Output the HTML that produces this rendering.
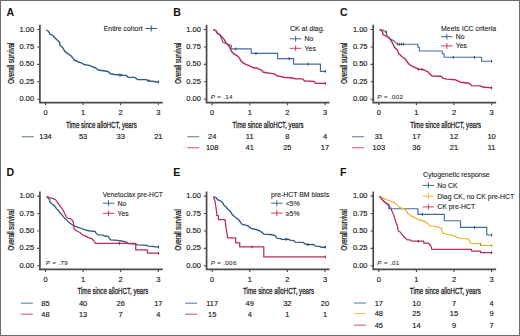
<!DOCTYPE html>
<html><head><meta charset="utf-8"><style>
html,body{margin:0;padding:0;background:#fff;}
body{width:520px;height:336px;overflow:hidden;position:relative;}
svg{position:absolute;left:0;top:0;}
text{font-family:"Liberation Sans",sans-serif;fill:#222222;}
.lt{font-weight:bold;font-size:10.6px;fill:#111;}
.tl{font-size:7.5px;stroke:#222;stroke-width:0.16px;}
.at{font-size:8.8px;stroke:#222;stroke-width:0.28px;}
.lg{font-size:6.9px;stroke:#222;stroke-width:0.1px;}
.pv{font-size:6.2px;fill:#333;stroke:#333;stroke-width:0.1px;letter-spacing:0.35px;}
.ax{fill:none;stroke:#4a4a4a;stroke-width:1.7;}
.tk{fill:none;stroke:#4a4a4a;stroke-width:1.1;}
</style></head><body>
<svg width="520" height="336" viewBox="0 0 520 336">
<rect x="0" y="0" width="520" height="336" fill="#fff"/>
<rect x="0.5" y="0.5" width="519" height="335" fill="none" stroke="#6b6b6b" stroke-width="1"/>
<text x="6.6" y="15.7" class="lt">A</text>
<path d="M39.9 24.8V102.7H162.8" class="ax"/>
<path d="M37.2 29.5H40M37.2 46.93H40M37.2 64.36H40M37.2 81.79H40M37.2 99.22H40M45.5 102.5V105.3M83.1 102.5V105.3M120.7 102.5V105.3M158.3 102.5V105.3" class="tk"/>
<text x="34.2" y="31.6" class="tl" text-anchor="end">1.00</text>
<text x="34.2" y="49.03" class="tl" text-anchor="end">0.75</text>
<text x="34.2" y="66.46" class="tl" text-anchor="end">0.50</text>
<text x="34.2" y="83.89" class="tl" text-anchor="end">0.25</text>
<text x="34.2" y="101.32" class="tl" text-anchor="end">0.00</text>
<text x="45.5" y="114.6" class="tl" text-anchor="middle">0</text>
<text x="83.1" y="114.6" class="tl" text-anchor="middle">1</text>
<text x="120.7" y="114.6" class="tl" text-anchor="middle">2</text>
<text x="158.3" y="114.6" class="tl" text-anchor="middle">3</text>
<text transform="translate(101.4 127.5) scale(0.697 1)" class="at" text-anchor="middle">Time since alloHCT, years</text>
<text transform="translate(13.9 63.25) rotate(-90) scale(0.685 1)" class="at" text-anchor="middle">Overall survival</text>
<path d="M46.2 30L48.8 31.5L50 34.4L52.6 35.2L55.2 38.2L58.1 40.8L59.6 42.6L60 45.2L62.6 47.5L65 51.7L67.2 53.2L70.9 55.8L73.2 58.4L74.3 60.3L76.9 61L79.1 62.3L81.4 62.9L84.3 64.7L88.1 65.1L91.1 66.1L93.4 67.2L95.3 67.6L97.6 69.5L99.5 70.3L103.4 70.7L108 71.5L110.3 73.8L114.2 74.5L118.8 74.9L122.6 75.3L126.3 75.5L128.2 77.2L134.8 77.4L137.5 79.5L146.3 79.6L147.8 80.6L149.4 81L153.2 81.2L155.5 82L158.6 82" stroke="#2c5a86" stroke-width="1.4" fill="none" stroke-linejoin="round"/>
<path d="M158.5 80.6V83.4M119 73.5V76.3M121 73.7V76.5M149 79.5V82.3" stroke="#223344" stroke-width="0.9"/>
<text x="103.8" y="31" class="lg" textLength="38.8" lengthAdjust="spacingAndGlyphs">Entire cohort</text>
<path d="M145.2 28.5H157.2M151.2 25.6V31.4" stroke="#36628f" stroke-width="1.1"/>
<path d="M21.8 136.7H33.8" stroke="#36628f" stroke-width="1.2" opacity="0.72"/>
<text x="45.5" y="139.2" class="tl" text-anchor="middle">134</text>
<text x="83.1" y="139.2" class="tl" text-anchor="middle">53</text>
<text x="120.7" y="139.2" class="tl" text-anchor="middle">33</text>
<text x="158.3" y="139.2" class="tl" text-anchor="middle">21</text>
<text x="173.27" y="15.7" class="lt">B</text>
<path d="M206.57 24.8V102.7H329.47" class="ax"/>
<path d="M203.87 29.5H206.67M203.87 46.93H206.67M203.87 64.36H206.67M203.87 81.79H206.67M203.87 99.22H206.67M212.17 102.5V105.3M249.77 102.5V105.3M287.37 102.5V105.3M324.97 102.5V105.3" class="tk"/>
<text x="200.87" y="31.6" class="tl" text-anchor="end">1.00</text>
<text x="200.87" y="49.03" class="tl" text-anchor="end">0.75</text>
<text x="200.87" y="66.46" class="tl" text-anchor="end">0.50</text>
<text x="200.87" y="83.89" class="tl" text-anchor="end">0.25</text>
<text x="200.87" y="101.32" class="tl" text-anchor="end">0.00</text>
<text x="212.17" y="114.6" class="tl" text-anchor="middle">0</text>
<text x="249.77" y="114.6" class="tl" text-anchor="middle">1</text>
<text x="287.37" y="114.6" class="tl" text-anchor="middle">2</text>
<text x="324.97" y="114.6" class="tl" text-anchor="middle">3</text>
<text transform="translate(268.07 127.5) scale(0.697 1)" class="at" text-anchor="middle">Time since alloHCT, years</text>
<text transform="translate(180.57 63.25) rotate(-90) scale(0.685 1)" class="at" text-anchor="middle">Overall survival</text>
<path d="M213.3 29.6L216 30.8L217.4 33.2L220 35L220.8 37.2L223 42.5L230.5 45.2H231.3V48.8H251.2V53.4H277.7V58.65H293.6V64.1H320.4V71.3H325.6" stroke="#3f6e9e" stroke-width="1.15" fill="none" stroke-linejoin="round"/>
<path d="M235.7 47.4V50.2M256 52V54.8M289.2 57.25V60.05M307.9 62.7V65.5M325.3 69.9V72.7" stroke="#2a3a4a" stroke-width="0.9"/>
<path d="M213.3 29.6L215.9 30.6L217.2 33.2L219.8 34.8L222.4 37.5L224.1 39.4L225.7 42.4L227.7 44.3L229.6 47L230.6 49.8L231.8 51.7L233.7 53.7L236.8 55.6L239.2 57.5L240.7 60.6L242.6 62.6L245.3 64.1L248.4 65.3L251.5 66.8L254 67.8L257.1 68.2L259.4 69.3L261.7 70.1L262.8 72L266.3 72.8L270.9 73.4L274.8 73.9L276.7 75.8L280.9 76.6L283.2 77.2L290.9 77.8L295.4 78.75L302.5 78.9L304.7 81L314.1 81.4L315.4 83.4L325.6 83.4" stroke="#c02552" stroke-width="1.4" fill="none" stroke-linejoin="round"/>
<path d="M325.3 82V84.8" stroke="#6a2838" stroke-width="0.9"/>
<text x="289.9" y="30.9" class="lg" textLength="34.6" lengthAdjust="spacingAndGlyphs">CK at diag.</text>
<path d="M289.9 38.8H301.4M295.65 35.9V41.7" stroke="#36628f" stroke-width="0.95"/>
<text x="304.6" y="41.3" class="lg">No</text>
<path d="M289.9 48.3H301.4M295.65 45.4V51.2" stroke="#d0305a" stroke-width="0.95"/>
<text x="304.6" y="50.8" class="lg">Yes</text>
<text x="210.67" y="99" class="pv"><tspan font-style="italic">P</tspan> = .14</text>
<path d="M187.27 136.7H199.27" stroke="#36628f" stroke-width="1.2" opacity="0.72"/>
<text x="212.17" y="139.2" class="tl" text-anchor="middle">24</text>
<text x="249.77" y="139.2" class="tl" text-anchor="middle">11</text>
<text x="287.37" y="139.2" class="tl" text-anchor="middle">8</text>
<text x="324.97" y="139.2" class="tl" text-anchor="middle">4</text>
<path d="M187.27 147.7H199.27" stroke="#d0305a" stroke-width="1.2" opacity="0.72"/>
<text x="212.17" y="150.2" class="tl" text-anchor="middle">108</text>
<text x="249.77" y="150.2" class="tl" text-anchor="middle">41</text>
<text x="287.37" y="150.2" class="tl" text-anchor="middle">25</text>
<text x="324.97" y="150.2" class="tl" text-anchor="middle">17</text>
<text x="339.93" y="15.7" class="lt">C</text>
<path d="M373.23 24.8V102.7H496.13" class="ax"/>
<path d="M370.53 29.5H373.33M370.53 46.93H373.33M370.53 64.36H373.33M370.53 81.79H373.33M370.53 99.22H373.33M378.83 102.5V105.3M416.43 102.5V105.3M454.03 102.5V105.3M491.63 102.5V105.3" class="tk"/>
<text x="367.53" y="31.6" class="tl" text-anchor="end">1.00</text>
<text x="367.53" y="49.03" class="tl" text-anchor="end">0.75</text>
<text x="367.53" y="66.46" class="tl" text-anchor="end">0.50</text>
<text x="367.53" y="83.89" class="tl" text-anchor="end">0.25</text>
<text x="367.53" y="101.32" class="tl" text-anchor="end">0.00</text>
<text x="378.83" y="114.6" class="tl" text-anchor="middle">0</text>
<text x="416.43" y="114.6" class="tl" text-anchor="middle">1</text>
<text x="454.03" y="114.6" class="tl" text-anchor="middle">2</text>
<text x="491.63" y="114.6" class="tl" text-anchor="middle">3</text>
<text transform="translate(445.63 127.5) scale(0.697 1)" class="at" text-anchor="middle">Time since alloHCT, years</text>
<text transform="translate(347.23 63.25) rotate(-90) scale(0.685 1)" class="at" text-anchor="middle">Overall survival</text>
<path d="M379.6 29.6L383.1 30.3L385.5 31.6L387.4 36.2L390.3 38.9L392 39.6L393.9 41L396 42.8L397.4 44.2H417.9V47.3H419.4V51H442.3V53.8H444.2V57.3H481.6V61.3H491.9" stroke="#3f6e9e" stroke-width="1.1" fill="none" stroke-linejoin="round"/>
<path d="M386.4 30.8V33.6M397.8 42.8V45.6M399.8 42.8V45.6M401.8 42.8V45.6M403.6 42.8V45.6M453.3 55.9V58.7M474.4 55.9V58.7M491.6 59.9V62.7" stroke="#2a3a4a" stroke-width="0.9"/>
<path d="M379.6 29.6L382.4 31L383.1 34.9L387.4 36.7L390.3 39.2L392.6 43.3L394.7 47.6L397.4 50.3L398.7 53.4L401.8 56.5L404.5 58.3L406.3 60.5L408.1 63.2L410.75 65.4L414.3 67.2L418.2 69.2L422.5 69.4L425.5 70.6L427.9 71.8L429.7 73.9L432.1 76L441 76.3L442.8 78.1L446.5 79.1L455 79.7L460.8 82.3L469 83.2L471.7 85.6L480.5 85.9L482.3 87L491.8 87.9" stroke="#c02552" stroke-width="1.4" fill="none" stroke-linejoin="round"/>
<path d="M491.6 86.5V89.3M418.4 67.9V70.7M422 68V70.8" stroke="#6a2838" stroke-width="0.9"/>
<text x="441.1" y="30.8" class="lg" textLength="55" lengthAdjust="spacingAndGlyphs">Meets ICC criteria</text>
<path d="M441.1 36.7H452.6M446.85 33.8V39.6" stroke="#36628f" stroke-width="0.95"/>
<text x="455.8" y="39.2" class="lg">No</text>
<path d="M441.1 45.9H452.6M446.85 43V48.8" stroke="#d0305a" stroke-width="0.95"/>
<text x="455.8" y="48.4" class="lg">Yes</text>
<text x="377.33" y="99" class="pv"><tspan font-style="italic">P</tspan> = .002</text>
<path d="M351.93 136.7H363.93" stroke="#36628f" stroke-width="1.2" opacity="0.72"/>
<text x="378.83" y="139.2" class="tl" text-anchor="middle">31</text>
<text x="416.43" y="139.2" class="tl" text-anchor="middle">17</text>
<text x="454.03" y="139.2" class="tl" text-anchor="middle">12</text>
<text x="491.63" y="139.2" class="tl" text-anchor="middle">10</text>
<path d="M351.93 147.7H363.93" stroke="#d0305a" stroke-width="1.2" opacity="0.72"/>
<text x="378.83" y="150.2" class="tl" text-anchor="middle">103</text>
<text x="416.43" y="150.2" class="tl" text-anchor="middle">36</text>
<text x="454.03" y="150.2" class="tl" text-anchor="middle">21</text>
<text x="491.63" y="150.2" class="tl" text-anchor="middle">11</text>
<text x="6.6" y="175.7" class="lt">D</text>
<path d="M39.9 191.4V269.3H162.8" class="ax"/>
<path d="M37.2 196.1H40M37.2 213.53H40M37.2 230.96H40M37.2 248.39H40M37.2 265.82H40M45.5 269.1V271.9M83.1 269.1V271.9M120.7 269.1V271.9M158.3 269.1V271.9" class="tk"/>
<text x="34.2" y="198.2" class="tl" text-anchor="end">1.00</text>
<text x="34.2" y="215.63" class="tl" text-anchor="end">0.75</text>
<text x="34.2" y="233.06" class="tl" text-anchor="end">0.50</text>
<text x="34.2" y="250.49" class="tl" text-anchor="end">0.25</text>
<text x="34.2" y="267.92" class="tl" text-anchor="end">0.00</text>
<text x="45.5" y="281.7" class="tl" text-anchor="middle">0</text>
<text x="83.1" y="281.7" class="tl" text-anchor="middle">1</text>
<text x="120.7" y="281.7" class="tl" text-anchor="middle">2</text>
<text x="158.3" y="281.7" class="tl" text-anchor="middle">3</text>
<text transform="translate(112.9 293.7) scale(0.697 1)" class="at" text-anchor="middle">Time since alloHCT, years</text>
<text transform="translate(13.9 229.85) rotate(-90) scale(0.685 1)" class="at" text-anchor="middle">Overall survival</text>
<path d="M46.7 196.7L49.4 199.4L49.8 201.7L51.7 203.7L54.4 205.6L56.4 208.7L58.3 210.3L60.3 213L62.6 215.7L64.7 218.25L67.4 220.9L70 223.2L72.7 225L74.1 225.8L77.6 227.2L81.6 228.5L85.2 229.9L88.8 230.75L90.6 231L95.2 231.4L96 233.3L98.3 234.8L102.9 235.2L104.5 236L108.3 236.4L109.1 237.9L110.6 239.8L114.5 240.2L122.2 241L123.7 241.5L126.5 242.1L128.1 243.5L135.3 244.1L137.8 244.9L146.7 245.3L148.3 246.1L153.9 246.5L155.5 246.9L158.8 246.9" stroke="#2c5a86" stroke-width="1.3" fill="none" stroke-linejoin="round"/>
<path d="M158.5 245.5V248.3" stroke="#2a3a4a" stroke-width="0.9"/>
<path d="M46.7 196.7L50.2 197.9L53.3 198.6L55.6 199.8L57.5 202.5L59.9 205.6L61.4 207.9L63.3 210.6L64.9 214.1L66.4 216.8L67.4 218.25L70.5 218.7L72.7 220.5L73.6 223.6L74.1 229L76.3 230.75L79.9 232.5L82.5 234.8L85.7 236.1L88.5 237.6L91.8 238.7L93.3 240.2L94.8 242.2L95.2 243.4H135.75V249.75H147.5V253.2H158.8" stroke="#bb2a5a" stroke-width="1.25" fill="none" stroke-linejoin="round"/>
<path d="M119.5 242V244.8M158.5 251.8V254.6" stroke="#6a2838" stroke-width="0.9"/>
<text x="102.8" y="197.4" class="lg" textLength="60" lengthAdjust="spacingAndGlyphs">Venetoclax pre-HCT</text>
<path d="M102.8 203.2H114.3M108.55 200.3V206.1" stroke="#36628f" stroke-width="0.95"/>
<text x="117.5" y="205.7" class="lg">No</text>
<path d="M102.8 213.3H114.3M108.55 210.4V216.2" stroke="#d0305a" stroke-width="0.95"/>
<text x="117.5" y="215.8" class="lg">Yes</text>
<text x="45.8" y="264.7" class="pv"><tspan font-style="italic">P</tspan> = .79</text>
<path d="M20.8 303.2H32.8" stroke="#36628f" stroke-width="1.2" opacity="0.72"/>
<text x="45.5" y="305.7" class="tl" text-anchor="middle">85</text>
<text x="83.1" y="305.7" class="tl" text-anchor="middle">40</text>
<text x="120.7" y="305.7" class="tl" text-anchor="middle">26</text>
<text x="158.3" y="305.7" class="tl" text-anchor="middle">17</text>
<path d="M20.8 314.2H32.8" stroke="#d0305a" stroke-width="1.2" opacity="0.72"/>
<text x="45.5" y="316.7" class="tl" text-anchor="middle">48</text>
<text x="83.1" y="316.7" class="tl" text-anchor="middle">13</text>
<text x="120.7" y="316.7" class="tl" text-anchor="middle">7</text>
<text x="158.3" y="316.7" class="tl" text-anchor="middle">4</text>
<text x="173.27" y="175.7" class="lt">E</text>
<path d="M206.57 191.4V269.3H329.47" class="ax"/>
<path d="M203.87 196.1H206.67M203.87 213.53H206.67M203.87 230.96H206.67M203.87 248.39H206.67M203.87 265.82H206.67M212.17 269.1V271.9M249.77 269.1V271.9M287.37 269.1V271.9M324.97 269.1V271.9" class="tk"/>
<text x="200.87" y="198.2" class="tl" text-anchor="end">1.00</text>
<text x="200.87" y="215.63" class="tl" text-anchor="end">0.75</text>
<text x="200.87" y="233.06" class="tl" text-anchor="end">0.50</text>
<text x="200.87" y="250.49" class="tl" text-anchor="end">0.25</text>
<text x="200.87" y="267.92" class="tl" text-anchor="end">0.00</text>
<text x="212.17" y="281.7" class="tl" text-anchor="middle">0</text>
<text x="249.77" y="281.7" class="tl" text-anchor="middle">1</text>
<text x="287.37" y="281.7" class="tl" text-anchor="middle">2</text>
<text x="324.97" y="281.7" class="tl" text-anchor="middle">3</text>
<text transform="translate(278.57 293.7) scale(0.697 1)" class="at" text-anchor="middle">Time since alloHCT, years</text>
<text transform="translate(180.57 229.85) rotate(-90) scale(0.685 1)" class="at" text-anchor="middle">Overall survival</text>
<path d="M213.5 196.5L216 197.75L217.7 199.8L220.2 200.7L222.7 202.75L223.5 204.8L226 206.9L227.7 209L230.2 211.1L231.8 214L234.3 216.5L236.8 218.2L238.7 219.8L240.6 222.5L242.2 224.4L247.6 225.6L251.5 228.7L256.1 229.5L260.8 231.4L263.9 234.1L270.1 234.5L275 235.4L277.1 238.3L280.3 238.6L282.1 239.4L288.7 239.2L289.9 240.1L294 240.7L295.5 242.2L302.8 242.3L305.1 244L308.1 244.6L313.5 244.4L315.3 246.1L319.4 246.4L321.2 247.2L325.6 247.2" stroke="#2c5a86" stroke-width="1.35" fill="none" stroke-linejoin="round"/>
<path d="M325.3 245.8V248.6M286.3 238V240.8M308.1 243.1V245.9" stroke="#223344" stroke-width="0.9"/>
<path d="M213.5 196.5L214.3 199L215.2 202.3L216 207.75L216.8 213.2V215.6H218.5V219.5H225.1L225.6 225.1L226.6 231.2L227.6 237.8H235.7V242.8H239.7V246.9H263.8V256.9H325.6" stroke="#bb2a5a" stroke-width="1.25" fill="none" stroke-linejoin="round"/>
<path d="M251.9 245.5V248.3M325.3 255.5V258.3" stroke="#6a2838" stroke-width="0.9"/>
<text x="271.1" y="197.4" class="lg" textLength="58.3" lengthAdjust="spacingAndGlyphs">pre-HCT BM blasts</text>
<path d="M271.1 203.2H282.6M276.85 200.3V206.1" stroke="#36628f" stroke-width="0.95"/>
<text x="285.8" y="205.7" class="lg">&lt;5%</text>
<path d="M271.1 213.1H282.6M276.85 210.2V216" stroke="#d0305a" stroke-width="0.95"/>
<text x="285.8" y="215.6" class="lg">≥5%</text>
<text x="210.67" y="264.7" class="pv"><tspan font-style="italic">P</tspan> = .006</text>
<path d="M185.07 303.2H197.07" stroke="#36628f" stroke-width="1.2" opacity="0.72"/>
<text x="212.17" y="305.7" class="tl" text-anchor="middle">117</text>
<text x="249.77" y="305.7" class="tl" text-anchor="middle">49</text>
<text x="287.37" y="305.7" class="tl" text-anchor="middle">32</text>
<text x="324.97" y="305.7" class="tl" text-anchor="middle">20</text>
<path d="M185.07 314.2H197.07" stroke="#d0305a" stroke-width="1.2" opacity="0.72"/>
<text x="212.17" y="316.7" class="tl" text-anchor="middle">15</text>
<text x="249.77" y="316.7" class="tl" text-anchor="middle">4</text>
<text x="287.37" y="316.7" class="tl" text-anchor="middle">1</text>
<text x="324.97" y="316.7" class="tl" text-anchor="middle">1</text>
<text x="339.93" y="175.7" class="lt">F</text>
<path d="M373.23 191.4V269.3H496.13" class="ax"/>
<path d="M370.53 196.1H373.33M370.53 213.53H373.33M370.53 230.96H373.33M370.53 248.39H373.33M370.53 265.82H373.33M378.83 269.1V271.9M416.43 269.1V271.9M454.03 269.1V271.9M491.63 269.1V271.9" class="tk"/>
<text x="367.53" y="198.2" class="tl" text-anchor="end">1.00</text>
<text x="367.53" y="215.63" class="tl" text-anchor="end">0.75</text>
<text x="367.53" y="233.06" class="tl" text-anchor="end">0.50</text>
<text x="367.53" y="250.49" class="tl" text-anchor="end">0.25</text>
<text x="367.53" y="267.92" class="tl" text-anchor="end">0.00</text>
<text x="378.83" y="281.7" class="tl" text-anchor="middle">0</text>
<text x="416.43" y="281.7" class="tl" text-anchor="middle">1</text>
<text x="454.03" y="281.7" class="tl" text-anchor="middle">2</text>
<text x="491.63" y="281.7" class="tl" text-anchor="middle">3</text>
<text transform="translate(445.33 293.7) scale(0.697 1)" class="at" text-anchor="middle">Time since alloHCT, years</text>
<text transform="translate(347.23 229.85) rotate(-90) scale(0.685 1)" class="at" text-anchor="middle">Overall survival</text>
<path d="M379.5 196.4L383.4 200.8L386.9 203.8L388.7 206V208.7H418V214.3H444.25V220.7H460.5V227.4H486.8V235H492" stroke="#3f6e9e" stroke-width="1.15" fill="none" stroke-linejoin="round"/>
<path d="M422.3 212.9V215.7M474.5 226V228.8M491.7 233.6V236.4" stroke="#2a3a4a" stroke-width="0.9"/>
<path d="M379.5 196.4L385.1 199.1L388.7 200.5L391.7 201.7L394.7 202.9L397.6 205.6L400 207.7L405.1 209.2L407.8 213.4L411.4 216.1L415.9 218.3L420.3 220.1L424.8 221.4L428.4 224.1L429.5 225.8L435.7 226.5L441.2 228.1L442.7 233.1L446.6 234.25L454.3 235.8L456.6 237.35L461.3 238.5L468.5 238.9L470.8 243.5H480.6V245.5H492" stroke="#eab030" stroke-width="1.2" fill="none" stroke-linejoin="round"/>
<path d="M491.7 244.1V246.9M480.6 243.1V245.9" stroke="#b08020" stroke-width="0.9"/>
<path d="M379.5 196.4L381.6 198.8L383.4 200.8L384.5 202.3L386.9 203.8L388.7 204.4L389.6 206.5L390.8 208.3L392 211.3L393.7 214.9L396 222.5L397.4 226L398.25 231L400.5 232.3L403.6 236.3L406.3 239L407.6 239.9L410.3 239.9L412.1 241.2H423.5L423.9 243.2H428.5L430.4 245.5L431.4 247.1L431.75 249.4H471.5V251H480.6V252.7H492" stroke="#bb2a5a" stroke-width="1.25" fill="none" stroke-linejoin="round"/>
<path d="M418.3 239.8V242.6M491.7 251.3V254.1" stroke="#6a2838" stroke-width="0.9"/>
<text x="423" y="176.8" class="lg" textLength="66.7" lengthAdjust="spacingAndGlyphs">Cytogenetic response</text>
<path d="M422.6 185.4H434.1M428.35 182.5V188.3" stroke="#36628f" stroke-width="0.95"/>
<text x="437.3" y="187.9" class="lg">No CK</text>
<path d="M422.6 196.2H434.1M428.35 193.3V199.1" stroke="#f0b030" stroke-width="0.95"/>
<text x="437.3" y="198.7" class="lg">Diag CK, no CK pre-HCT</text>
<path d="M422.6 206.9H434.1M428.35 204V209.8" stroke="#d0305a" stroke-width="0.95"/>
<text x="437.3" y="209.4" class="lg">CK pre-HCT</text>
<text x="377.33" y="264.7" class="pv"><tspan font-style="italic">P</tspan> = .01</text>
<path d="M353.93 303H365.93" stroke="#36628f" stroke-width="1.2" opacity="0.72"/>
<text x="378.83" y="305.5" class="tl" text-anchor="middle">17</text>
<text x="416.43" y="305.5" class="tl" text-anchor="middle">10</text>
<text x="454.03" y="305.5" class="tl" text-anchor="middle">7</text>
<text x="491.63" y="305.5" class="tl" text-anchor="middle">4</text>
<path d="M353.93 313.6H365.93" stroke="#f0b030" stroke-width="1.2" opacity="0.72"/>
<text x="378.83" y="316.1" class="tl" text-anchor="middle">48</text>
<text x="416.43" y="316.1" class="tl" text-anchor="middle">25</text>
<text x="454.03" y="316.1" class="tl" text-anchor="middle">15</text>
<text x="491.63" y="316.1" class="tl" text-anchor="middle">9</text>
<path d="M353.93 325.2H365.93" stroke="#d0305a" stroke-width="1.2" opacity="0.72"/>
<text x="378.83" y="327.7" class="tl" text-anchor="middle">45</text>
<text x="416.43" y="327.7" class="tl" text-anchor="middle">14</text>
<text x="454.03" y="327.7" class="tl" text-anchor="middle">9</text>
<text x="491.63" y="327.7" class="tl" text-anchor="middle">7</text>
</svg></body></html>
